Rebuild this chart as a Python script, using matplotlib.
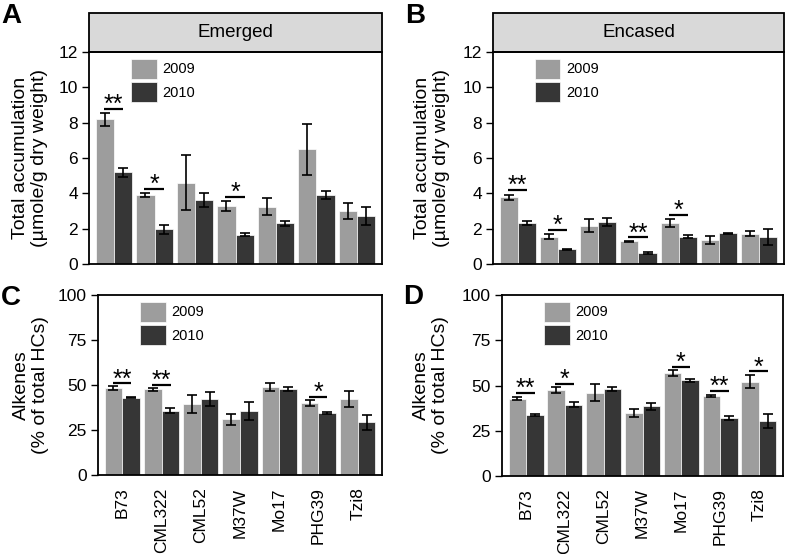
import matplotlib
matplotlib.use("Agg")
import matplotlib.pyplot as plt
from matplotlib.patches import Rectangle, Patch
import numpy as np

plt.rcParams['font.family'] = ['Liberation Sans', 'DejaVu Sans']

# ---------------- data ----------------
genotypes = ["B73", "CML322", "CML52", "M37W", "Mo17", "PHG39", "Tzi8"]
years = ["2009", "2010"]

# Panel A: Emerged, total accumulation (umole/g dry weight)
emerged_2009 = [8.20, 3.89, 4.60, 3.28, 3.25, 6.49, 3.00]
emerged_2009_err = [0.37, 0.11, 1.56, 0.28, 0.46, 1.46, 0.44]
emerged_2010 = [5.19, 1.96, 3.64, 1.66, 2.30, 3.89, 2.70]
emerged_2010_err = [0.27, 0.25, 0.40, 0.08, 0.13, 0.23, 0.52]
emerged_sig = [(0, "**", 8.80), (1, "*", 4.26), (3, "*", 3.81)]

# Panel B: Encased, total accumulation
encased_2009 = [3.77, 1.55, 2.17, 1.28, 2.30, 1.36, 1.72]
encased_2009_err = [0.16, 0.14, 0.36, 0.05, 0.22, 0.22, 0.16]
encased_2010 = [2.34, 0.83, 2.38, 0.62, 1.55, 1.74, 1.51]
encased_2010_err = [0.11, 0.04, 0.25, 0.08, 0.07, 0.03, 0.45]
encased_sig = [(0, "**", 4.19), (1, "*", 1.92), (3, "**", 1.51), (4, "*", 2.79)]

# Panel C: Emerged, alkenes (% of total HCs)
alk_em_2009 = [48.3, 47.6, 39.6, 30.9, 48.9, 40.0, 42.2]
alk_em_2009_err = [0.9, 0.7, 5.0, 3.2, 2.1, 1.9, 4.3]
alk_em_2010 = [43.0, 35.7, 42.2, 35.6, 47.8, 34.3, 29.4]
alk_em_2010_err = [0.3, 1.3, 4.0, 4.9, 1.0, 0.6, 4.2]
alk_em_sig = [(0, "**", 50.9), (1, "**", 50.2), (5, "*", 43.5)]

# Panel D: Encased, alkenes (% of total HCs)
alk_en_2009 = [42.8, 47.6, 46.1, 35.0, 56.9, 44.1, 52.2]
alk_en_2009_err = [0.8, 1.5, 4.8, 2.2, 1.4, 0.7, 3.4]
alk_en_2010 = [33.7, 39.4, 48.0, 38.5, 52.8, 31.9, 30.4]
alk_en_2010_err = [0.6, 1.4, 1.3, 1.8, 1.0, 1.2, 3.8]
alk_en_sig = [(0, "**", 45.9), (1, "*", 51.1), (4, "*", 60.2), (5, "**", 46.9), (6, "*", 57.8)]

total_ticks = [0, 2, 4, 6, 8, 10, 12]
alk_ticks = [0, 25, 50, 75, 100]

# ---------------- style ----------------
C2009 = "#9d9d9d"
C2010 = "#363636"
W, H = 787, 554
fig = plt.figure(figsize=(W / 100, H / 100), dpi=100)


def rect(l, r, t, b):
    return [l / W, 1 - b / H, (r - l) / W, (b - t) / H]


def panel(pos, v09, e09, v10, e10, sig, ticks, ylabel, ylab_x, letter, letter_xy,
          strip=None, xlabels=False):
    ax = fig.add_axes(rect(*pos))
    x = np.arange(len(genotypes))
    w = 0.45
    ax.bar(x - w / 2, v09, w, color=C2009, edgecolor="white", linewidth=0.5,
           label=years[0], zorder=2)
    ax.bar(x + w / 2, v10, w, color=C2010, edgecolor="white", linewidth=0.5,
           label=years[1], zorder=2)
    ax.errorbar(x - w / 2, v09, yerr=e09, fmt="none", ecolor="black",
                elinewidth=1.2, capsize=3.6, capthick=1.2, zorder=3)
    ax.errorbar(x + w / 2, v10, yerr=e10, fmt="none", ecolor="black",
                elinewidth=1.2, capsize=3.6, capthick=1.2, zorder=3)
    ax.set_xlim(-0.62, len(genotypes) - 1 + 0.62)
    ax.set_ylim(ticks[0], ticks[-1])
    ax.set_yticks(ticks)
    ax.tick_params(axis="y", direction="out", length=5, width=1, labelsize=12.5, pad=3)
    ax.set_xticks(x)
    if xlabels:
        ax.set_xticklabels(genotypes, rotation=90, fontsize=12.5)
        ax.tick_params(axis="x", length=0, pad=9)
    else:
        ax.set_xticklabels([])
        ax.tick_params(axis="x", length=0)
    for s in ax.spines.values():
        s.set_linewidth(1.3)
        s.set_color("black")
    # significance
    for i, lab, yv in sig:
        ax.plot([i - 0.25, i + 0.23], [yv, yv], color="black", lw=1.6,
                solid_capstyle="butt", zorder=4)
        ax.annotate(lab, (i - 0.01, yv), xytext=(0, -2.2), textcoords="offset points",
                    ha="center", va="baseline", fontsize=18, zorder=4)
    ax.set_ylabel(ylabel, fontsize=14, linespacing=1.15)
    ax.yaxis.set_label_coords(ylab_x / W, 1 - ((pos[2] + pos[3]) / 2) / H,
                              transform=fig.transFigure)
    # legend
    fs = 10.5
    fpx = fs * 100 / 72
    axw = pos[1] - pos[0]
    axh = pos[3] - pos[2]
    handles = [Patch(facecolor=C2009, edgecolor="white", linewidth=0.5),
               Patch(facecolor=C2010, edgecolor="white", linewidth=0.5)]
    ax.legend(handles, years, loc="upper left",
              bbox_to_anchor=(42 / axw, 1 - 6.5 / axh), frameon=False,
              borderpad=0, borderaxespad=0, fontsize=fs,
              handlelength=25.5 / fpx, handleheight=25.5 / fpx,
              labelspacing=3.5 / fpx, handletextpad=6 / fpx)
    # strip header
    if strip is not None:
        sh = 39 / axh
        ax.add_patch(Rectangle((0, 1), 1, sh, transform=ax.transAxes, clip_on=False,
                               facecolor="#d9d9d9", edgecolor="black", lw=1.3))
        ax.text(0.5, 1 + sh / 2, strip, transform=ax.transAxes, ha="center",
                va="center", fontsize=13.5)
    fig.text(letter_xy[0] / W, 1 - letter_xy[1] / H, letter, fontsize=20,
             fontweight="bold", ha="left", va="baseline")
    return ax


ylab_total = "Total accumulation\n(\u00b5mole/g dry weight)"
ylab_alk = "Alkenes\n(% of total HCs)"

panel((89, 382, 52, 264), emerged_2009, emerged_2009_err, emerged_2010, emerged_2010_err,
      emerged_sig, total_ticks, ylab_total, 48, "A", (1, 23), strip="Emerged")
panel((493, 784, 52, 264), encased_2009, encased_2009_err, encased_2010, encased_2010_err,
      encased_sig, total_ticks, ylab_total, 450, "B", (405, 23), strip="Encased")
panel((98, 382, 295, 475), alk_em_2009, alk_em_2009_err, alk_em_2010, alk_em_2010_err,
      alk_em_sig, alk_ticks, ylab_alk, 49, "C", (1, 305), xlabels=True)
panel((502, 783, 295, 476), alk_en_2009, alk_en_2009_err, alk_en_2010, alk_en_2010_err,
      alk_en_sig, alk_ticks, ylab_alk, 449, "D", (403, 304), xlabels=True)

fig.savefig("out.png", dpi=100)
